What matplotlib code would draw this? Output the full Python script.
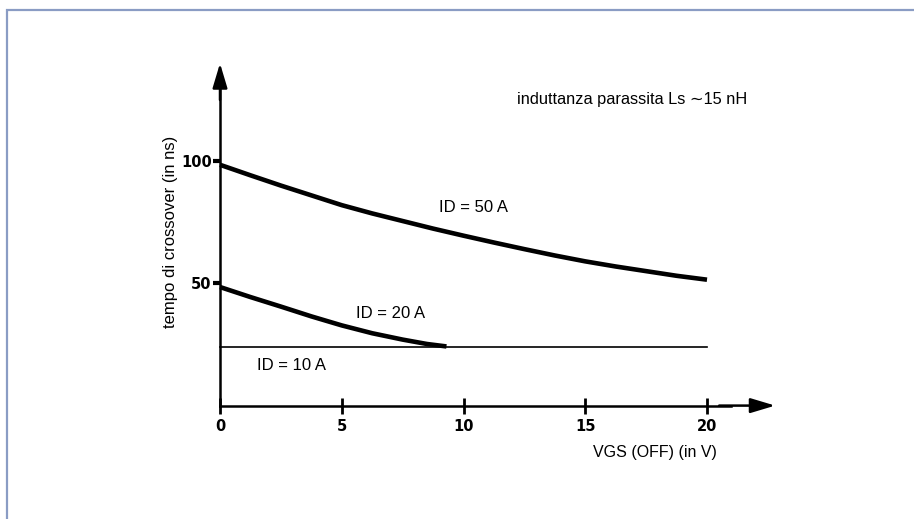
"""Crossover time vs VGS(OFF) for three drain currents."""
import matplotlib
matplotlib.use("Agg")
import matplotlib.pyplot as plt
from matplotlib.patches import Rectangle

# values
vgs_50 = [0, 1.25, 2.5, 3.75, 5, 6.25, 7.5, 8.75, 10, 11.25, 12.5, 13.75, 15, 16.25, 17.5, 18.75, 20]
t_50 = [98.5, 94.2, 90, 86, 82, 78.6, 75.5, 72.4, 69.5, 66.7, 64, 61.4, 59, 56.9, 55, 53.1, 51.5]
vgs_20 = [0, 1.25, 2.5, 3.75, 5, 6.25, 7.5, 8.5, 9.3]
t_20 = [48.5, 44.4, 40.5, 36.5, 32.8, 29.6, 27, 25.2, 24.2]
vgs_10 = [0, 20]
t_10 = [24, 24]
x_ticks = [0, 5, 10, 15, 20]
y_ticks = [50, 100]

plt.rcParams["font.family"] = ["Liberation Sans", "DejaVu Sans"]

fig = plt.figure(figsize=(9.14, 5.19), dpi=100)
# scanned page frame
fig.patches.append(Rectangle((7 / 914, -0.1), 1.2, 1 - 10 / 519 + 0.1,
                             transform=fig.transFigure, fill=False,
                             edgecolor="#8a9cc4", linewidth=1.6))

W, H = 914, 519
ax = fig.add_axes([171.3 / W, 64.5 / H, 633.1 / W, 403.4 / H])
ax.set_xlim(-2, 24)
ax.set_ylim(-20, 145)
ax.patch.set_visible(False)

for side in ["top", "right"]:
    ax.spines[side].set_visible(False)
for side in ["left", "bottom"]:
    ax.spines[side].set_position(("data", 0))
    ax.spines[side].set_linewidth(1.8)
ax.spines["left"].set_bounds(0, 130)
ax.spines["bottom"].set_bounds(0, 21)

# arrowheads
ax.annotate("", xy=(22.8, 0), xytext=(20.5, 0),
            arrowprops=dict(arrowstyle="-|>,head_length=1.5,head_width=0.45",
                            color="black", lw=1.8, shrinkA=0, shrinkB=0))
ax.annotate("", xy=(0, 140), xytext=(0, 125),
            arrowprops=dict(arrowstyle="-|>,head_length=1.5,head_width=0.45",
                            color="black", lw=1.8, shrinkA=0, shrinkB=0))

ax.set_xticks(x_ticks)
ax.set_yticks(y_ticks)
ax.tick_params(axis="x", direction="inout", length=11, width=2, pad=4)
ax.tick_params(axis="y", direction="out", length=5, width=3, pad=1)
for lab in ax.get_xticklabels() + ax.get_yticklabels():
    lab.set_fontweight("bold")
    lab.set_fontsize(10.5)
    lab.set_family(["DejaVu Sans"])

ax.plot(vgs_50, t_50, color="black", lw=3.3, solid_capstyle="butt",
        solid_joinstyle="round")
ax.plot(vgs_20, t_20, color="black", lw=3.3, solid_capstyle="butt",
        solid_joinstyle="round")
ax.plot(vgs_10, t_10, color="black", lw=1.2)

ax.text(9.0, 79, "ID = 50 A", fontsize=12)
ax.text(5.6, 36, "ID = 20 A", fontsize=12)
ax.text(1.5, 14.5, "ID = 10 A", fontsize=12)
ax.text(12.2, 123.5, "induttanza parassita Ls \u223c15 nH", fontsize=11.8)

ax.text(-2.05, 71, "tempo di crossover (in ns)", rotation=90, fontsize=12,
        ha="center", va="center")
ax.text(15.3, -19, "VGS (OFF) (in V)", fontsize=11.5, ha="left", va="center",
        clip_on=False)

fig.savefig("out.png", dpi=100)
plt.close(fig)
